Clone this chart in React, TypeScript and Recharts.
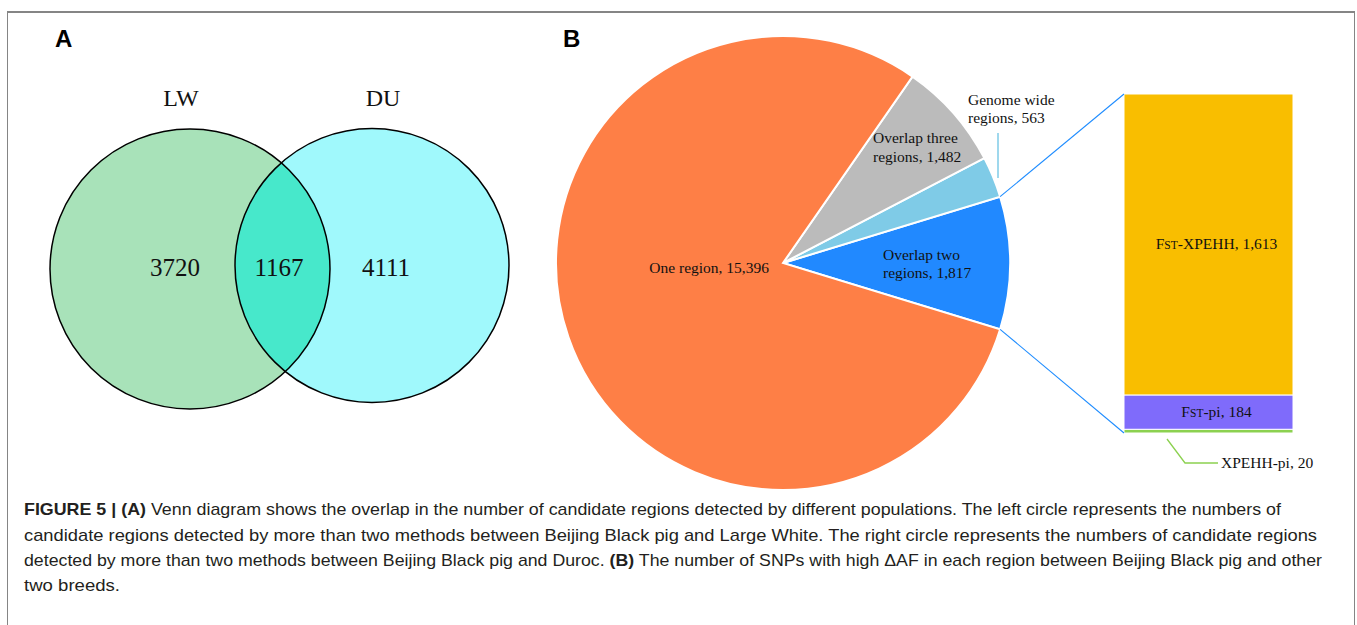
import React from 'react';
import {
  ScatterChart,
  Scatter,
  XAxis,
  YAxis,
  PieChart,
  Pie,
  Cell,
  BarChart,
  Bar,
  LabelList,
} from 'recharts';

// ---- Panel A: Venn diagram of candidate regions ----
const vennSets = ['LW', 'DU'];
const vennRegionNames = ['LW only', 'LW and DU', 'DU only'];
const vennRegionCounts = [3720, 1167, 4111];

// ---- Panel B: SNPs with high ΔAF per region type ----
const pieNames = ['Overlap two regions', 'Genome wide regions', 'Overlap three regions', 'One region'];
const pieValues = [1817, 563, 1482, 15396];

// Breakdown of the "Overlap two regions" slice, bottom to top
const barNames = ['XPEHH-pi', 'Fst-pi', 'Fst-XPEHH'];
const barValues = [20, 184, 1613];

// ---- Styling and layout ----
const W = 1357;
const H = 625;
const SERIF = "'Liberation Serif', 'Times New Roman', serif";
const SANS = "'Liberation Sans', Arial, Helvetica, sans-serif";

const VENN_W = 560;
const VENN_H = 480;
const vennCircles = [
  { x: 190, y: 269, r: 140, fill: '#A8E2B9' },
  { x: 372, y: 265.5, r: 137, fill: '#A0F9FC' },
];
const vennOverlapFill = '#47E8CB';
const vennNamePos = [
  { x: 181, y: 106 },
  { x: 383, y: 106 },
];
const vennCountPos = [
  { x: 175, y: 276 },
  { x: 279, y: 276 },
  { x: 386, y: 276 },
];

const pieColors = ['#2189FF', '#7FCBE7', '#BBBBBB', '#FE7F46'];
const PIE = { cx: 783, cy: 263, r: 227 };

const barColors = ['#8CD150', '#7F6BFB', '#F9BE00'];
const BAR = { left: 1124, top: 94, width: 169, height: 339 };

// ---- Derived tables ----
const vennSetData = vennSets.map((name, i) => ({ name, i, x: vennCircles[i].x, y: vennCircles[i].y }));
const vennNameData = vennSets.map((name, i) => ({ name, x: vennNamePos[i].x, y: vennNamePos[i].y }));
const vennCountData = vennRegionCounts.map((count, i) => ({
  name: vennRegionNames[i],
  count,
  x: vennCountPos[i].x,
  y: vennCountPos[i].y,
}));

const pieTotal = pieValues.reduce((a, b) => a + b, 0);
const pieData = pieNames.map((name, i) => ({ name, value: pieValues[i] }));
// "Overlap two regions" is centred on the horizontal axis, facing the bar
const pieStart = -(pieValues[0] / pieTotal) * 180;
const pieEnd = pieStart + 360;

const barTotal = barValues.reduce((a, b) => a + b, 0);
const barRow: Record<string, any> = { name: pieNames[0] };
barNames.forEach((n, i) => {
  barRow[n] = barValues[i];
});
const barData = [barRow];

const fmt = (v: number) => v.toLocaleString('en-US');

// ---- Venn shapes ----
const VennFill = (props: any) => {
  const { cx, cy, payload } = props;
  const c = vennCircles[payload.i];
  if (payload.i === 0) {
    return <circle cx={cx} cy={cy} r={c.r} fill={c.fill} />;
  }
  const o = vennCircles[0];
  const ox = cx + (o.x - c.x);
  const oy = cy + (o.y - c.y);
  return (
    <g>
      <defs>
        <clipPath id="venn-lw-clip">
          <circle cx={ox} cy={oy} r={o.r} />
        </clipPath>
      </defs>
      <circle cx={cx} cy={cy} r={c.r} fill={c.fill} />
      <circle cx={cx} cy={cy} r={c.r} fill={vennOverlapFill} clipPath="url(#venn-lw-clip)" />
    </g>
  );
};

const VennOutline = (props: any) => {
  const { cx, cy, payload } = props;
  const c = vennCircles[payload.i];
  return <circle cx={cx} cy={cy} r={c.r} fill="none" stroke="#000" strokeWidth={1.5} />;
};

const VennName = (props: any) => (
  <text x={props.cx} y={props.cy} textAnchor="middle" fontFamily={SERIF} fontSize={24} fill="#111">
    {props.payload.name}
  </text>
);

const VennCount = (props: any) => (
  <text x={props.cx} y={props.cy} textAnchor="middle" fontFamily={SERIF} fontSize={25} fill="#111">
    {props.payload.count}
  </text>
);

// ---- Pie labels ----
const PIE_FONT = 15.5;
const pieLabelLayout = [
  { anchor: 'start', dx: 100, dy: [-3, 15] },
  { anchor: 'start', dx: 185, dy: [-158, -140] },
  { anchor: 'start', dx: 90, dy: [-120, -101] },
  { anchor: 'end', dx: -14, dy: [10] },
];

const renderPieLabel = (props: any) => {
  const { index } = props;
  const cx = PIE.cx;
  const cy = PIE.cy;
  const name: string = pieNames[index];
  const value = pieValues[index];
  const lay = pieLabelLayout[index];
  const lines = name.endsWith(' regions')
    ? [name.replace(/ regions$/, ''), `regions, ${fmt(value)}`]
    : [`${name}, ${fmt(value)}`];
  return (
    <g key={`pl-${index}`}>
      {lines.map((t, k) => (
        <text
          key={k}
          x={cx + lay.dx}
          y={cy + lay.dy[k]}
          textAnchor={lay.anchor as any}
          fontFamily={SERIF}
          fontSize={PIE_FONT}
          fill="#111"
        >
          {t}
        </text>
      ))}
      {index === 1 && (
        <line x1={cx + 215} y1={cy - 130} x2={cx + 215} y2={cy - 85} stroke={pieColors[1]} strokeWidth={1.5} />
      )}
    </g>
  );
};

// ---- Bar labels ----
const methodText = (name: string) => {
  if (name.startsWith('Fst')) {
    return [
      <tspan key="f">F</tspan>,
      <tspan key="s" fontSize={11.5}>
        ST
      </tspan>,
      <tspan key="r">{name.slice(3)}</tspan>,
    ];
  }
  return [<tspan key="r">{name}</tspan>];
};

const makeInsideLabel = (name: string) => (props: any) => {
  const { x, y, width, height, value } = props;
  return (
    <text
      x={x + width / 2 + 8}
      y={y + height / 2 + 5}
      textAnchor="middle"
      fontFamily={SERIF}
      fontSize={PIE_FONT}
      fill="#111"
    >
      {methodText(name)}
      <tspan>{`, ${fmt(value)}`}</tspan>
    </text>
  );
};

const makeOutsideLabel = (name: string) => (props: any) => {
  const { x, y, height, value } = props;
  const by = y + height;
  return (
    <g>
      <polyline
        points={`${x + 43},${by + 6} ${x + 61},${by + 30} ${x + 94},${by + 30}`}
        fill="none"
        stroke={barColors[0]}
        strokeWidth={1.3}
      />
      <text x={x + 97} y={by + 35} fontFamily={SERIF} fontSize={PIE_FONT} fill="#111">
        {`${name}, ${fmt(value)}`}
      </text>
    </g>
  );
};

// ---- Caption ----
const captionLines = [
  {
    parts: [
      { t: 'FIGURE 5 | (A)', b: true },
      {
        t: ' Venn diagram shows the overlap in the number of candidate regions detected by different populations. The left circle represents the numbers of',
        b: false,
      },
    ],
    len: 1257,
  },
  {
    parts: [
      {
        t: 'candidate regions detected by more than two methods between Beijing Black pig and Large White. The right circle represents the numbers of candidate regions',
        b: false,
      },
    ],
    len: 1293,
  },
  {
    parts: [
      { t: 'detected by more than two methods between Beijing Black pig and Duroc. ', b: false },
      { t: '(B)', b: true },
      { t: ' The number of SNPs with high ΔAF in each region between Beijing Black pig and other', b: false },
    ],
    len: 1298,
  },
  { parts: [{ t: 'two breeds.', b: false }], len: 96 },
];
const CAPTION_X = 24;
const CAPTION_Y = [515, 541, 566, 591];

const toRad = (d: number) => (d * Math.PI) / 180;

export default function App() {
  const a0 = pieStart;
  const a1 = pieStart + (pieValues[0] / pieTotal) * 360;
  const lower = { x: PIE.cx + PIE.r * Math.cos(toRad(a0)), y: PIE.cy - PIE.r * Math.sin(toRad(a0)) };
  const upper = { x: PIE.cx + PIE.r * Math.cos(toRad(a1)), y: PIE.cy - PIE.r * Math.sin(toRad(a1)) };

  return (
    <div style={{ position: 'absolute', left: 0, top: 0, width: W, height: H, background: '#fff', overflow: 'hidden' }}>
      {/* Panel A */}
      <div style={{ position: 'absolute', left: 0, top: 0 }}>
        <ScatterChart width={VENN_W} height={VENN_H} margin={{ top: 0, right: 0, bottom: 0, left: 0 }}>
          <XAxis type="number" dataKey="x" domain={[0, VENN_W]} hide />
          <YAxis type="number" dataKey="y" domain={[0, VENN_H]} reversed hide />
          <Scatter data={vennSetData} shape={VennFill} isAnimationActive={false} />
          <Scatter data={vennSetData} shape={VennOutline} isAnimationActive={false} />
          <Scatter data={vennNameData} shape={VennName} isAnimationActive={false} />
          <Scatter data={vennCountData} shape={VennCount} isAnimationActive={false} />
        </ScatterChart>
      </div>

      {/* Panel B: pie */}
      <div style={{ position: 'absolute', left: 0, top: 0 }}>
        <PieChart width={W} height={H} margin={{ top: 0, right: 0, bottom: 0, left: 0 }}>
          <Pie
            data={pieData}
            dataKey="value"
            nameKey="name"
            cx={PIE.cx}
            cy={PIE.cy}
            innerRadius={0}
            outerRadius={PIE.r}
            startAngle={pieStart}
            endAngle={pieEnd}
            stroke="#fff"
            strokeWidth={2}
            label={renderPieLabel}
            labelLine={false}
            isAnimationActive={false}
          >
            {pieData.map((d, i) => (
              <Cell key={d.name} fill={pieColors[i]} />
            ))}
          </Pie>
        </PieChart>
      </div>

      {/* Panel B: stacked bar for the two-method overlap */}
      <div style={{ position: 'absolute', left: BAR.left, top: BAR.top }}>
        <BarChart
          width={BAR.width + 200}
          height={BAR.height + 60}
          data={barData}
          margin={{ top: 0, right: 200, bottom: 60, left: 0 }}
          barCategoryGap={0}
          barGap={0}
        >
          <XAxis dataKey="name" hide />
          <YAxis type="number" domain={[0, barTotal]} allowDataOverflow hide />
          {barNames.map((n, i) => (
            <Bar key={n} dataKey={n} stackId="m" fill={barColors[i]} stroke="#fff" strokeWidth={1} isAnimationActive={false}>
              <LabelList dataKey={n} content={i === 0 ? makeOutsideLabel(n) : makeInsideLabel(n)} />
            </Bar>
          ))}
        </BarChart>
      </div>

      {/* Frame, panel letters, connectors and caption */}
      <svg width={W} height={H} style={{ position: 'absolute', left: 0, top: 0, pointerEvents: 'none' }}>
        <line x1={7} y1={12} x2={1355} y2={12} stroke="#858585" strokeWidth={2} />
        <line x1={7.5} y1={12} x2={7.5} y2={H} stroke="#858585" strokeWidth={1} />
        <line x1={1354.5} y1={12} x2={1354.5} y2={H} stroke="#858585" strokeWidth={1} />

        <text x={55} y={47} fontFamily={SANS} fontWeight="bold" fontSize={24} fill="#000">
          A
        </text>
        <text x={563} y={47} fontFamily={SANS} fontWeight="bold" fontSize={24} fill="#000">
          B
        </text>

        <line x1={upper.x} y1={upper.y} x2={BAR.left} y2={BAR.top} stroke="#1E8CFF" strokeWidth={1.1} />
        <line x1={lower.x} y1={lower.y} x2={BAR.left} y2={BAR.top + BAR.height} stroke="#1E8CFF" strokeWidth={1.1} />

        {captionLines.map((ln, i) => (
          <text
            key={i}
            x={CAPTION_X}
            y={CAPTION_Y[i]}
            fontFamily={SANS}
            fontSize={17}
            fill="#231F20"
            textLength={ln.len}
            lengthAdjust="spacingAndGlyphs"
          >
            {ln.parts.map((p, k) => (
              <tspan key={k} fontWeight={p.b ? 'bold' : 'normal'}>
                {p.t}
              </tspan>
            ))}
          </text>
        ))}
      </svg>
    </div>
  );
}
